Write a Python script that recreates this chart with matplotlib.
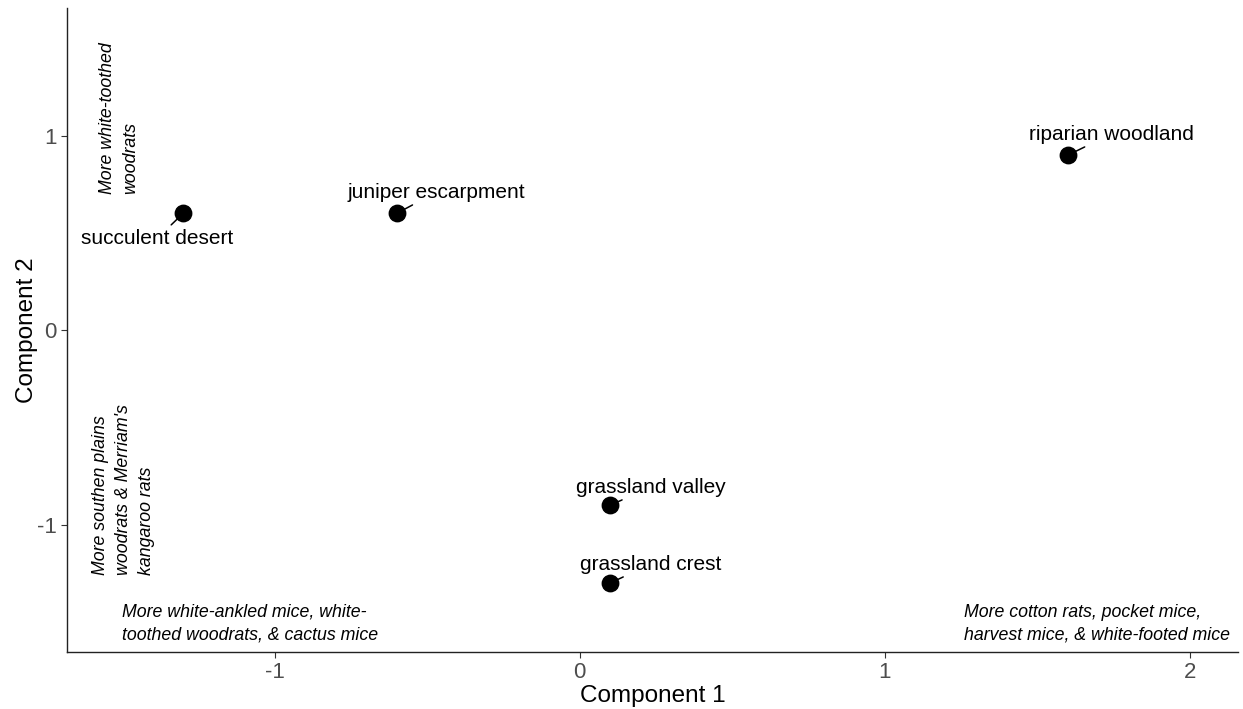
import matplotlib
matplotlib.use("Agg")
import matplotlib.pyplot as plt

plt.rcParams['font.family'] = ['Liberation Sans', 'DejaVu Sans']

# site scores
sites = ['succulent desert', 'juniper escarpment', 'riparian woodland',
         'grassland valley', 'grassland crest']
comp1 = [-1.3, -0.6, 1.6, 0.1, 0.1]
comp2 = [0.6, 0.6, 0.9, -0.9, -1.3]
# label positions (repelled)
lab_x = [-1.384, -0.469, 1.741, 0.233, 0.233]
lab_y = [0.473, 0.71, 1.008, -0.807, -1.203]

xticks = [-1, 0, 1, 2]
yticks = [-1, 0, 1]

fig = plt.figure(figsize=(12.43, 7.09), dpi=100)
ax = fig.add_axes([0.054, 0.0804, 0.942, 0.908])

ax.scatter(comp1, comp2, s=140, color='black', zorder=3)
for name, x, y, tx, ty in zip(sites, comp1, comp2, lab_x, lab_y):
    ax.annotate(name, xy=(x, y), xytext=(tx, ty), ha='center', va='center',
                fontsize=15, color='black',
                arrowprops=dict(arrowstyle='-', color='black', lw=1.1,
                                shrinkA=1, shrinkB=4))

# direction notes
note_size = 12.8
ax.text(-1.51, 0.70, 'More white-toothed\nwoodrats', rotation=90,
        ha='center', va='bottom', multialignment='left', style='italic',
        fontsize=note_size, linespacing=1.45)
ax.text(-1.495, -1.26, "More southen plains\nwoodrats & Merriam's\nkangaroo rats",
        rotation=90, ha='center', va='bottom', multialignment='left',
        style='italic', fontsize=note_size, linespacing=1.45)
ax.text(-1.50, -1.51, 'More white-ankled mice, white-\ntoothed woodrats, & cactus mice',
        ha='left', va='center', style='italic', fontsize=note_size, linespacing=1.45)
ax.text(1.259, -1.51, 'More cotton rats, pocket mice,\nharvest mice, & white-footed mice',
        ha='left', va='center', style='italic', fontsize=note_size, linespacing=1.45)

ax.set_xlim(-1.68, 2.157)
ax.set_ylim(-1.655, 1.655)
ax.set_xticks(xticks)
ax.set_yticks(yticks)
ax.set_xticklabels([str(t) if t >= 0 else '-' + str(-t) for t in xticks])
ax.set_yticklabels([str(t) if t >= 0 else '-' + str(-t) for t in yticks])
ax.tick_params(labelsize=16, labelcolor='#4d4d4d', color='#333333',
               length=4, width=0.8)
ax.set_xlabel('Component 1', fontsize=17.5, labelpad=1)
ax.set_ylabel('Component 2', fontsize=17.5, labelpad=-1)
for s in ['top', 'right']:
    ax.spines[s].set_visible(False)
for s in ['left', 'bottom']:
    ax.spines[s].set_linewidth(1.0)
    ax.spines[s].set_color('#222222')

fig.savefig('out.png', dpi=100)
